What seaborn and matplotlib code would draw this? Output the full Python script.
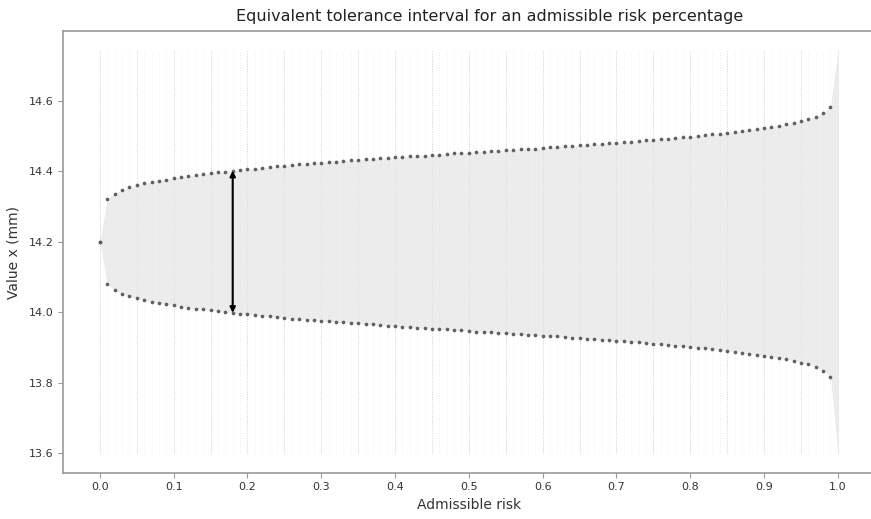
import numpy as np
import pandas as pd
import matplotlib
matplotlib.use("Agg")
import matplotlib.pyplot as plt
import seaborn as sns

# ---- data ----
risk = [round(i * 0.01, 2) for i in range(101)]

upper = [14.200, 14.321, 14.337, 14.347, 14.355, 14.361, 14.366, 14.370, 14.374, 14.377,
         14.381, 14.384, 14.387, 14.390, 14.392, 14.395, 14.397, 14.399, 14.402, 14.404,
         14.406, 14.408, 14.410, 14.412, 14.414, 14.416, 14.418, 14.420, 14.421, 14.423,
         14.425, 14.426, 14.428, 14.429, 14.431, 14.432, 14.434, 14.435, 14.437, 14.438,
         14.440, 14.441, 14.443, 14.444, 14.445, 14.447, 14.448, 14.449, 14.451, 14.452,
         14.453, 14.455, 14.456, 14.457, 14.459, 14.460, 14.461, 14.463, 14.464, 14.465,
         14.467, 14.468, 14.469, 14.471, 14.472, 14.474, 14.475, 14.477, 14.478, 14.480,
         14.481, 14.483, 14.484, 14.486, 14.488, 14.489, 14.491, 14.493, 14.495, 14.497,
         14.499, 14.501, 14.503, 14.505, 14.507, 14.510, 14.512, 14.515, 14.518, 14.521,
         14.524, 14.527, 14.530, 14.534, 14.538, 14.543, 14.548, 14.555, 14.566, 14.584,
         14.742]

lower = [14.200, 14.079, 14.063, 14.053, 14.045, 14.039, 14.034, 14.030, 14.026, 14.023,
         14.019, 14.016, 14.013, 14.010, 14.008, 14.005, 14.003, 14.001, 13.998, 13.996,
         13.994, 13.992, 13.990, 13.988, 13.986, 13.984, 13.982, 13.980, 13.979, 13.977,
         13.975, 13.974, 13.972, 13.971, 13.969, 13.968, 13.966, 13.965, 13.963, 13.962,
         13.960, 13.959, 13.957, 13.956, 13.955, 13.953, 13.952, 13.951, 13.949, 13.948,
         13.947, 13.945, 13.944, 13.943, 13.941, 13.940, 13.939, 13.937, 13.936, 13.935,
         13.933, 13.932, 13.931, 13.929, 13.928, 13.926, 13.925, 13.923, 13.922, 13.920,
         13.919, 13.917, 13.916, 13.914, 13.912, 13.911, 13.909, 13.907, 13.905, 13.903,
         13.901, 13.899, 13.897, 13.895, 13.893, 13.890, 13.888, 13.885, 13.882, 13.879,
         13.876, 13.873, 13.870, 13.866, 13.862, 13.857, 13.852, 13.845, 13.834, 13.816,
         13.600]

arrow_risk = 0.18
x_ticks = [0.0, 0.1, 0.2, 0.3, 0.4, 0.5, 0.6, 0.7, 0.8, 0.9, 1.0]
y_ticks = [13.6, 13.8, 14.0, 14.2, 14.4, 14.6]

title = "Equivalent tolerance interval for an admissible risk percentage"
xlabel = "Admissible risk"
ylabel = "Value x (mm)"

df = pd.DataFrame({"risk": risk, "upper": upper, "lower": lower})
dots = df[df["risk"] < 0.995]

# ---- styling ----
sns.set_style("white", {
    "axes.edgecolor": "#9a9a9a",
    "xtick.color": "#9a9a9a",
    "ytick.color": "#9a9a9a",
    "xtick.bottom": True,
    "ytick.left": True,
})
plt.rcParams["font.family"] = ["DejaVu Sans"]

fig = plt.figure(figsize=(8.71, 5.19), dpi=100)
ax = fig.add_axes([0.0723, 0.0886, 0.932, 0.8517])

ymin, ymax = min(lower), max(upper)

# vertical guide lines
minor = df[~np.isclose((df["risk"] * 100 + 0.5) % 5, 0.5)]
major = df[np.isclose((df["risk"] * 100 + 0.5) % 5, 0.5)]
ax.vlines(minor["risk"], ymin, ymax, colors="#ececec", linestyles=(0, (1, 2)), linewidth=0.6, zorder=1)
ax.vlines(major["risk"], ymin, ymax, colors="#cfcfcf", linestyles=(0, (1, 1.5)), linewidth=0.7, zorder=1)

# shaded interval
ax.fill_between(df["risk"], df["lower"], df["upper"], color="#e4e4e4", alpha=0.7, linewidth=0, zorder=2)

# bounds as dots
sns.scatterplot(data=dots, x="risk", y="upper", ax=ax, color="#606060", s=7, linewidth=0, zorder=3)
sns.scatterplot(data=dots, x="risk", y="lower", ax=ax, color="#606060", s=7, linewidth=0, zorder=3)

# arrow
i = risk.index(arrow_risk)
ax.annotate("", xy=(arrow_risk, upper[i]), xytext=(arrow_risk, lower[i]),
            arrowprops=dict(arrowstyle="<|-|>", color="black", lw=1.5,
                            mutation_scale=8, shrinkA=0, shrinkB=0), zorder=4)

ax.set_xlim(-0.05, 1.05)
ax.set_ylim(13.543, 14.799)
ax.set_xticks(x_ticks)
ax.set_xticklabels([f"{t:.1f}" for t in x_ticks])
ax.set_yticks(y_ticks)
ax.set_yticklabels([f"{t:.1f}" for t in y_ticks])
ax.tick_params(axis="both", labelsize=8, labelcolor="#333333", length=3.5, width=0.8, pad=3)
for s in ax.spines.values():
    s.set_linewidth(1.2)
ax.spines["right"].set_visible(False)

ax.set_xlabel(xlabel, fontsize=10, color="#333333", labelpad=4)
ax.set_ylabel(ylabel, fontsize=10, color="#333333", labelpad=6)
fig.text(490 / 871, 1 - 16 / 519, title, fontsize=11.5, color="#222222", ha="center", va="center")

fig.savefig("out.png", dpi=100)
